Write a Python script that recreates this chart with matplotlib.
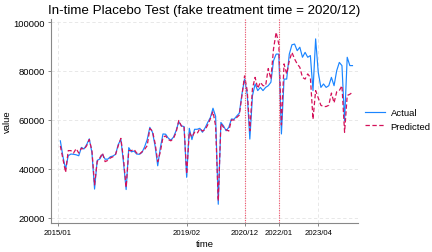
import numpy as np
import pandas as pd
import matplotlib
matplotlib.use("Agg")
import matplotlib.pyplot as plt
from matplotlib.lines import Line2D

plt.rcParams['font.family'] = ['Liberation Sans', 'DejaVu Sans']

# ---- data (monthly, starting 2015/02) ----
start_month = "2015-02"
actual = [
    51500, 45000, 40000, 45400, 46100, 46000, 45800, 45400, 48800, 48200, 50000, 52300,  # m1-m12
    46700, 31800, 43500, 44100, 46000, 44000, 44000, 45000, 45300, 46000, 50000, 52100,  # m13-m24
    42600, 31600, 48700, 47000, 47300, 46100, 46000, 46700, 49000, 52000, 57000, 55000,  # m25-m36
    49400, 41300, 48700, 54300, 54200, 52600, 51800, 53000, 55700, 59300, 57600, 57300,  # m37-m48
    36600, 56600, 52000, 56200, 56200, 56600, 55000, 56800, 59000, 61000, 64800, 61500,  # m49-m60
    25600, 59000, 57600, 55600, 57000, 60400, 60300, 61600, 62800, 70600, 76700, 70600,  # m61-m72
    52200, 69900, 74700, 72000, 73300, 72000, 73300, 74000, 75400, 84200, 86900, 86900,  # m73-m84
    54300, 76700, 76700, 86900, 90700, 91000, 88300, 89700, 85600, 87600, 85600, 86300,  # m85-m96
    72000, 93100, 79400, 73300, 74700, 73300, 74000, 77400, 74000, 80100, 83500, 82200,  # m97-m108
    59700, 85600, 82200, 82200,                                                          # m109-m112
]
predicted = [
    49400, 44000, 38600, 47500, 47500, 46500, 48300, 46500, 48500, 48000, 49500, 52000,
    47500, 33500, 43000, 44500, 46500, 43000, 43500, 44500, 45000, 46000, 49500, 52500,
    44000, 32500, 47500, 47500, 48000, 46500, 46000, 47000, 48000, 49500, 56500, 55500,
    50500, 43000, 47000, 53000, 53500, 52000, 51500, 52500, 55000, 59800, 57500, 57500,
    38000, 55000, 53000, 55000, 54500, 56500, 55500, 56000, 58000, 60500, 63500, 57500,
    27000, 58500, 57000, 56000, 55500, 60000, 60000, 61000, 62000, 70000, 78000, 72000,
    55600, 72900, 77400, 72900, 75400, 74000, 74000, 81000, 76700, 89000, 95800, 91000,
    58000, 82900, 78800, 84200, 87600, 84900, 82900, 81500, 77400, 76700, 78800, 77400,
    60300, 72000, 69000, 66000, 65500, 65500, 66000, 71000, 67000, 71500, 72000, 74000,
    55000, 70000, 70500, 71300,
]
tick_labels = ["2015/01", "2019/02", "2020/12", "2022/01", "2023/04"]
treat_labels = ["2020/12", "2022/01"]
y_ticks = [20000, 40000, 60000, 80000, 100000]

assert len(actual) == len(predicted)
n = len(actual)

def month_index(label):
    y, m = label.replace("-", "/").split("/")
    return (int(y) - 2015) * 12 + int(m) - 1

periods = pd.period_range(start_month, periods=n, freq="M")
x = np.array([(p.year - 2015) * 12 + p.month - 1 for p in periods])
tick_pos = [month_index(t) for t in tick_labels]
treat_pos = [month_index(t) for t in treat_labels]

# ---- figure ----
W, H = 432, 253
fig = plt.figure(figsize=(W / 100, H / 100), dpi=100)
ax = fig.add_axes([51 / W, (H - 224) / H, (358 - 51) / W, (224 - 20) / H])

grid_kw = dict(color="#e4e4e4", lw=0.6, ls=(0, (4, 3)), zorder=0)
for yt in y_ticks:
    ax.axhline(yt, **grid_kw)
for xt in tick_pos:
    ax.axvline(xt, **grid_kw)

ax.plot(x, actual, color="#1a85ff", lw=0.85, zorder=3, label="Actual")
ax.plot(x, predicted, color="#d41159", lw=0.9, ls=(0, (3.5, 2)), zorder=4, label="Predicted")
for tp in treat_pos:
    ax.axvline(tp, color="#f0506a", lw=0.8, ls=(0, (1, 1.2)), zorder=5)

ax.set_xlim(-2.55, 114.1)
ax.set_ylim(17950, 101225)
ax.set_xticks(tick_pos)
ax.set_xticklabels(tick_labels)
ax.set_yticks(y_ticks)
ax.set_yticklabels([str(v) for v in y_ticks])

for s in ["top", "right"]:
    ax.spines[s].set_visible(False)
for s in ["left", "bottom"]:
    ax.spines[s].set_color("#888888")
    ax.spines[s].set_linewidth(0.8)

ax.tick_params(axis="both", direction="out", length=2.4, width=0.7, color="#888888")
ax.tick_params(axis="y", labelsize=6.8, pad=1.8)
ax.tick_params(axis="x", labelsize=5.6, pad=2.0)

ax.set_title("In-time Placebo Test (fake treatment time = 2020/12)", fontsize=9.6, pad=4)
ax.set_ylabel("value", fontsize=6.8)
ax.yaxis.set_label_coords((12 - 51) / 307, 0.5)
ax.set_xlabel("time", fontsize=6.8)
ax.xaxis.set_label_coords(0.5, (224 - 240) / 204)

handles = [Line2D([], [], color="#1a85ff", lw=0.85),
           Line2D([], [], color="#d41159", lw=0.9, ls=(0, (3.5, 2)))]
fig.legend(handles, ["Actual", "Predicted"], loc="center left",
           bbox_to_anchor=(365 / W, (H - 120.5) / H), frameon=False,
           fontsize=6.8, handlelength=2.1, handletextpad=0.6,
           labelspacing=0.45, borderpad=0, borderaxespad=0)

fig.savefig("out.png", dpi=100)
